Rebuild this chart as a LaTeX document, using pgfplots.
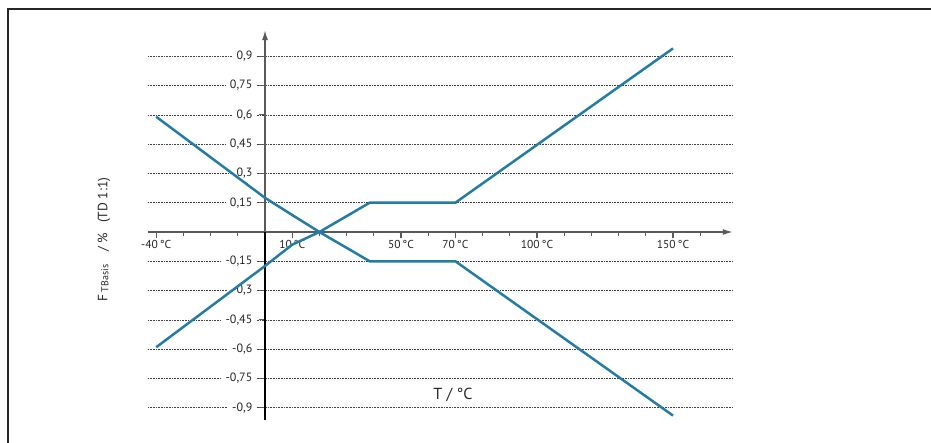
\documentclass[border=0pt]{standalone}
\usepackage{fontspec}
\setmainfont{PT Sans}
\usepackage{pgfplots}
\pgfplotsset{compat=1.18}
\usetikzlibrary{arrows.meta}
\definecolor{curve}{RGB}{36,124,164}
\definecolor{axisgray}{RGB}{90,90,90}
\begin{document}
\begin{tikzpicture}[x=1pt,y=1pt]
\path[use as bounding box] (0,0) rectangle (931,443);
\draw[black!85, line width=1.6pt] (8,-2) -- (8,434) -- (933,434);
\begin{axis}[
  x=2.72pt, y=195.3pt,
  anchor=origin, at={(265pt,211pt)},
  xmin=-43, xmax=172, ymin=-0.963, ymax=1.034,
  axis lines=middle,
  clip=false,
  axis line style={draw=axisgray, line width=1.5pt},
  x axis line style={-{Latex[length=10pt,width=6pt]}},
  y axis line style={-{Latex[length=10pt,width=6pt]}},
  xtick={-40,10,50,70,100,150},
  xticklabels={-40\,°C,10\,°C,50\,°C,70\,°C,100\,°C,150\,°C},
  minor xtick={-30,-20,-10,20,30,40,60,80,90,110,120,130,140,160},
  ytick={-0.9,-0.75,-0.6,-0.45,-0.3,-0.15,0.15,0.3,0.45,0.6,0.75,0.9},
  yticklabels={{-0,9},{-0,75},{-0,6},{-0,45},{-0,3},{-0,15},{0,15},{0,3},{0,45},{0,6},{0,75},{0,9}},
  ymajorgrids,
  grid style={black!75, line width=0.55pt, dash pattern=on 0.7pt off 0.9pt},
  tick align=outside,
  major tick length=6.5pt, minor tick length=4.5pt,
  tick style={axisgray, line width=1.1pt},
  xticklabel style={font=\fontsize{11.5}{12}\selectfont, text=black!85, inner sep=2pt},
  yticklabel style={font=\fontsize{12}{12}\selectfont, text=black!85, fill=white, inner xsep=4pt, inner ysep=1pt, xshift=-2pt},
]
\draw[black, line width=1.6pt] (axis cs:0,0) -- (axis cs:0,-0.963);
\addplot[color=curve, line width=2.5pt] coordinates {
  (-40,0.59) (0,0.175) (10,0.087) (20,0) (38.5,-0.15) (70,-0.15) (150,-0.94)
};
\addplot[color=curve, line width=2.5pt] coordinates {
  (-40,-0.59) (0,-0.174) (10,-0.065) (20,0) (38.5,0.15) (70,0.15) (150,0.94)
};
\end{axis}
\node[rotate=90, font=\fontsize{13.5}{15}\selectfont, text=black!85] at (104,203.5)
  {F\,{\fontsize{10}{11}\selectfont\raisebox{-1pt}{TBasis}}\hspace{13pt}/ \%\hspace{10pt}(TD 1:1)};
\node[font=\fontsize{16}{18}\selectfont, text=black!85] at (453,48) {T / °C};
\end{tikzpicture}
\end{document}
